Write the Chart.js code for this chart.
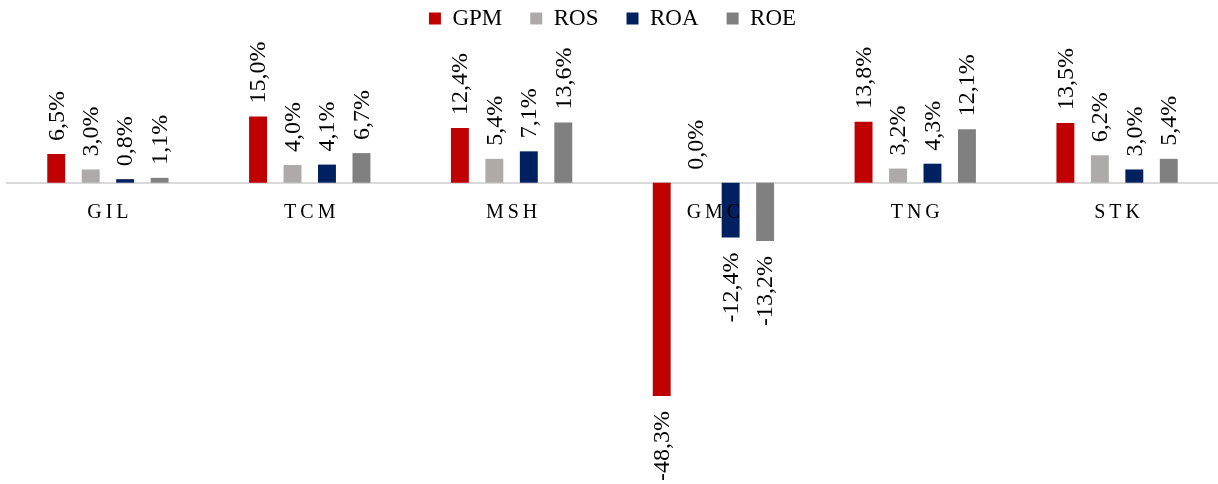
<!DOCTYPE html>
<html>
<head>
<meta charset="utf-8">
<script src="https://cdn.jsdelivr.net/npm/chart.js@4/dist/chart.umd.min.js"></script>
<style>
  html, body { margin: 0; padding: 0; background: #fff; }
  .chart-wrapper { width: 1218px; height: 484px; }
</style>
</head>
<body>
<div class="chart-wrapper"><canvas id="chart"></canvas></div>
<script>
const categories = ['GIL', 'TCM', 'MSH', 'GMC', 'TNG', 'STK'];
const gpm = [6.5, 15.0, 12.4, -48.3, 13.8, 13.5];
const ros = [3.0, 4.0, 5.4, 0.0, 3.2, 6.2];
const roa = [0.8, 4.1, 7.1, -12.4, 4.3, 3.0];
const roe = [1.1, 6.7, 13.6, -13.2, 12.1, 5.4];

const serif = '"Times New Roman", "Liberation Serif", Tinos, serif';

// rotated value labels at the end of each bar
const barLabels = {
  id: 'barLabels',
  afterDatasetsDraw(chart) {
    const ctx = chart.ctx;
    ctx.save();
    ctx.font = '24px ' + serif;
    ctx.fillStyle = '#000';
    ctx.textBaseline = 'middle';
    chart.data.datasets.forEach((ds, i) => {
      chart.getDatasetMeta(i).data.forEach((bar, j) => {
        const v = ds.data[j];
        const text = v.toFixed(1).replace('.', ',') + '%';
        const neg = v < 0;
        ctx.save();
        ctx.translate(bar.x + 1, neg ? bar.y + 15 : bar.y - 13);
        ctx.rotate(-Math.PI / 2);
        ctx.textAlign = neg ? 'right' : 'left';
        ctx.fillText(text, 0, 0);
        ctx.restore();
      });
    });
    ctx.restore();
  }
};

new Chart(document.getElementById('chart').getContext('2d'), {
  type: 'bar',
  data: {
    labels: categories,
    datasets: [
      { label: 'GPM', data: gpm, backgroundColor: '#C00000' },
      { label: 'ROS', data: ros, backgroundColor: '#AEAAAA' },
      { label: 'ROA', data: roa, backgroundColor: '#002060' },
      { label: 'ROE', data: roe, backgroundColor: '#808080' }
    ]
  },
  options: {
    responsive: true,
    maintainAspectRatio: false,
    animation: false,
    categoryPercentage: 0.683,
    barPercentage: 0.52,
    layout: { padding: { left: 7, right: 0, top: -21, bottom: 0 } },
    plugins: {
      legend: {
        position: 'top',
        labels: {
          boxWidth: 12,
          boxHeight: 12,
          padding: 28,
          color: '#000',
          font: { family: serif, size: 23 }
        }
      },
      tooltip: { enabled: false }
    },
    scales: {
      x: {
        position: { y: 0 },
        grid: { display: false },
        border: { color: '#D9D9D9', width: 2 },
        ticks: {
          z: 1,
          color: '#000',
          padding: 10,
          font: { family: serif, size: 20 },
          callback: function (value) {
            return this.getLabelForValue(value).split('').join('\u2009');
          }
        }
      },
      y: {
        display: false,
        min: -68.2,
        max: 32.3,
        grid: { display: false }
      }
    }
  },
  plugins: [barLabels]
});
</script>
</body>
</html>
